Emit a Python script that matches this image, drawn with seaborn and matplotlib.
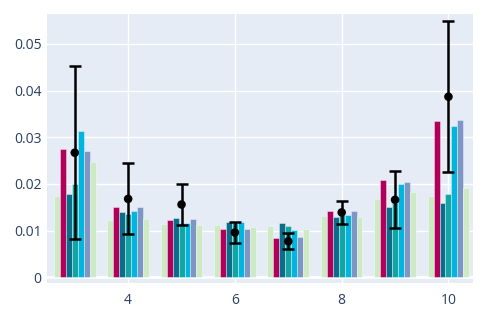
import numpy as np
import pandas as pd
import matplotlib
matplotlib.use("Agg")
import matplotlib.pyplot as plt
import seaborn as sns

# ---- data ----
x_vals = [3, 4, 5, 6, 7, 8, 9, 10]
series_names = ["g_left", "crimson", "darkteal", "teal", "cyan", "slate", "g_right"]
g_left   = [0.0175, 0.0123, 0.0114, 0.0113, 0.0109, 0.0132, 0.0168, 0.0174]
crimson  = [0.0274, 0.0150, 0.0122, 0.0104, 0.0084, 0.0142, 0.0209, 0.0335]
darkteal = [0.0178, 0.0140, 0.0127, 0.0118, 0.0116, 0.0129, 0.0151, 0.0160]
teal     = [0.0200, 0.0136, 0.0116, 0.0116, 0.0109, 0.0134, 0.0160, 0.0178]
cyan     = [0.0314, 0.0143, 0.0117, 0.0118, 0.0101, 0.0134, 0.0201, 0.0324]
slate    = [0.0271, 0.0150, 0.0125, 0.0104, 0.0086, 0.0142, 0.0205, 0.0338]
g_right  = [0.0247, 0.0125, 0.0112, 0.0107, 0.0104, 0.0129, 0.0183, 0.0191]
mean_vals = [0.0267, 0.0168, 0.0156, 0.0096, 0.0077, 0.0139, 0.0166, 0.0387]
err_vals  = [0.0186, 0.0076, 0.0045, 0.0022, 0.0017, 0.0024, 0.0061, 0.0162]
y_ticks = [0, 0.01, 0.02, 0.03, 0.04, 0.05]
y_tick_labels = ["0", "0.01", "0.02", "0.03", "0.04", "0.05"]
x_ticks = [4, 6, 8, 10]

colors = {
    "g_left": "#cdeac5",
    "crimson": "#b0005a",
    "darkteal": "#0b6c8b",
    "teal": "#13a5a3",
    "cyan": "#00b6de",
    "slate": "#7e96c6",
    "g_right": "#cdeac5",
}

series = [g_left, crimson, darkteal, teal, cyan, slate, g_right]
rows = []
for name, vals in zip(series_names, series):
    for xv, v in zip(x_vals, vals):
        rows.append({"x": xv, "series": name, "value": v})
df = pd.DataFrame(rows)

plt.rcParams["font.family"] = ["Open Sans", "DejaVu Sans"]

# ---- figure ----
fig = plt.figure(figsize=(4.9, 3.11), dpi=100)
W, H = 490, 311
ax = fig.add_axes([47 / W, (H - 283.3) / H, (473 - 47) / W, (283.3 - 14) / H])
bg = "#e5ecf6"
ax.set_facecolor(bg)

sns.barplot(data=df, x="x", y="value", hue="series", hue_order=series_names,
            palette=colors, native_scale=True, width=0.78, dodge=True,
            saturation=1, errorbar=None, ax=ax, legend=False,
            edgecolor=(1, 1, 1, 0.45), linewidth=0.6, zorder=3)

ax.errorbar(x_vals, mean_vals, yerr=err_vals, fmt="none", ecolor="black",
            elinewidth=1.8, capsize=4, capthick=1.8, zorder=5)
sns.scatterplot(x=x_vals, y=mean_vals, color="black", s=38, edgecolor="none",
                ax=ax, zorder=6)

ax.set_xlim(2.48, 10.46)
ax.set_ylim(-0.00129, 0.05643)
ax.set_yticks(y_ticks)
ax.set_yticklabels(y_tick_labels)
ax.set_xticks(x_ticks)
ax.set_xticklabels([str(t) for t in x_ticks])

ax.grid(True, color="white", linewidth=1, zorder=0)
ax.set_axisbelow(True)
ax.axhline(0, color="white", linewidth=2, zorder=1)
for s in ax.spines.values():
    s.set_visible(False)
ax.tick_params(length=0, labelsize=10, labelcolor="#2a3f5f", pad=4)
ax.tick_params(axis="x", pad=7)
ax.set_xlabel("")
ax.set_ylabel("")

fig.savefig("out.png", dpi=100, facecolor="white")
